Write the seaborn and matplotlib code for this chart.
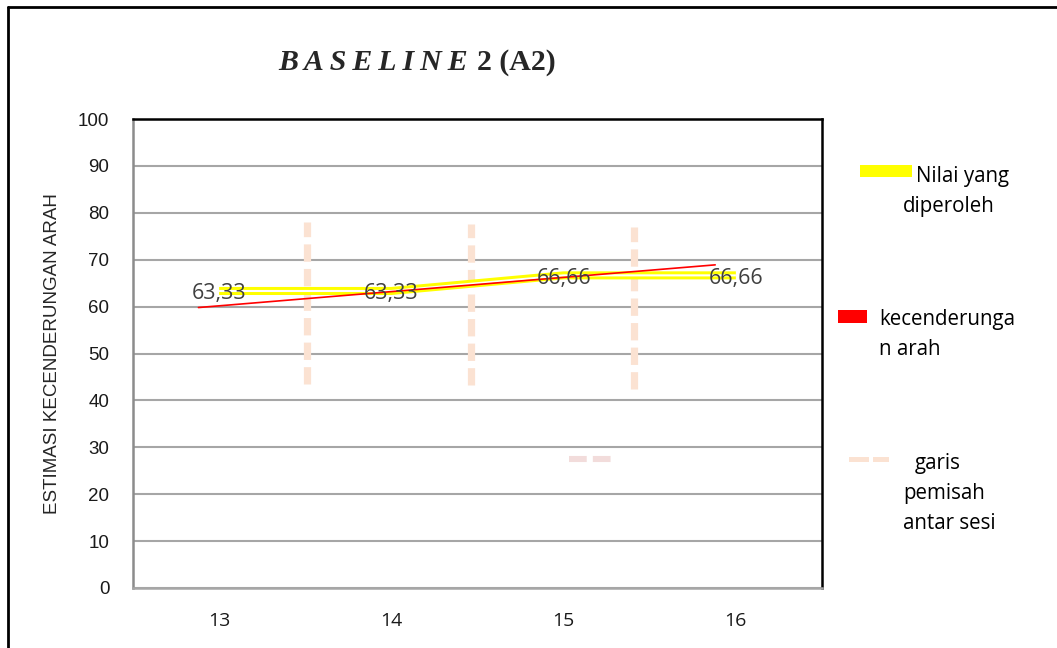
"""Baseline 2 (A2) chart: obtained scores, trend line and session separators."""
import matplotlib
matplotlib.use("Agg")
import matplotlib.pyplot as plt
import pandas as pd
import seaborn as sns
from matplotlib.lines import Line2D
from matplotlib.patches import Rectangle

W, H = 1057, 648

SESSIONS = [13, 14, 15, 16]
SCORES = [63.33, 63.33, 66.66, 66.66]
SCORE_LABELS = ["63,33", "63,33", "66,66", "66,66"]

TREND_X = [12.88, 15.88]
TREND_Y = [59.8, 68.9]

SEPARATOR_X = [13.51, 14.46, 15.41]
SEPARATOR_BOTTOM = [43.5, 43.3, 42.4]
SEPARATOR_TOP = [78.0, 77.6, 77.0]

STRAY_X = [15.03, 15.28]
STRAY_Y = [27.5, 27.5]

Y_TICKS = list(range(0, 101, 10))

YELLOW = "#FFFF00"
RED = "#FF0000"
DASH = "#FBE2D2"
GRID = "#A6A6A6"


def px(x, y):
    # pixel position (from top-left) -> figure fraction
    return x / W, 1 - y / H


def main():
    sns.set_theme(style="white")
    plt.rcParams["font.family"] = ["Open Sans", "DejaVu Sans"]

    fig = plt.figure(figsize=(W / 100, H / 100), dpi=100)
    ax = fig.add_axes([133 / W, 1 - 588 / H, (822 - 133) / W, (588 - 119) / H])

    scores = pd.DataFrame({"sesi": SESSIONS, "nilai": SCORES})
    trend = pd.DataFrame({"sesi": TREND_X, "nilai": TREND_Y})

    # double yellow line: thick yellow with a white core
    sns.lineplot(data=scores, x="sesi", y="nilai", ax=ax, color=YELLOW,
                 lw=5.8, zorder=3, solid_capstyle="butt")
    sns.lineplot(data=scores, x="sesi", y="nilai", ax=ax, color="white",
                 lw=1.5, zorder=4, solid_capstyle="butt")
    sns.lineplot(data=trend, x="sesi", y="nilai", ax=ax, color=RED,
                 lw=1.2, zorder=5)

    for x, y0, y1 in zip(SEPARATOR_X, SEPARATOR_BOTTOM, SEPARATOR_TOP):
        ax.plot([x, x], [y0, y1], color=DASH, lw=5.2, dashes=(2.4, 1.0),
                zorder=2, dash_capstyle="butt")
    ax.plot(STRAY_X, STRAY_Y, color="#F2DCDB", lw=4.4, dashes=(2.9, 1.0),
            zorder=2, dash_capstyle="butt")

    for x, y, lab in zip(SESSIONS, SCORES, SCORE_LABELS):
        ax.text(x, y - 0.6, lab, ha="center", va="center", fontsize=15.5,
                color="#404040", zorder=6)

    ax.set_xlim(12.5, 16.5)
    ax.set_ylim(0, 100)
    ax.set_xticks(SESSIONS)
    ax.set_xticklabels([str(s) for s in SESSIONS], fontsize=14)
    ax.set_yticks(Y_TICKS)
    ax.set_yticklabels([str(v) for v in Y_TICKS], fontsize=13.5,
                       family="Liberation Sans")
    ax.tick_params(axis="x", length=0, pad=17, colors="#1a1a1a")
    ax.tick_params(axis="y", length=0, pad=17, colors="#1a1a1a")
    ax.yaxis.grid(True, color=GRID, lw=1.5)
    ax.xaxis.grid(False)
    ax.set_axisbelow(True)
    ax.set_xlabel("")
    ax.set_ylabel("ESTIMASI KECENDERUNGAN ARAH", family="Liberation Sans",
                  fontsize=13.5, labelpad=12)

    ax.spines["top"].set_color("black")
    ax.spines["right"].set_color("black")
    ax.spines["left"].set_color("#8c8c8c")
    ax.spines["bottom"].set_color(GRID)
    for s in ax.spines.values():
        s.set_linewidth(1.8)

    # title: letter-spaced bold italic word, then bold upright part
    thin = "\u2009"
    t1 = fig.text(*px(278, 62), thin.join("BASELINE"), family="Liberation Serif",
                  weight="bold", style="italic", fontsize=21.5, va="center",
                  ha="left")
    fig.canvas.draw()
    bb = t1.get_window_extent()
    fig.text((bb.x1 + 9) / W, 1 - 62 / H, "2 (A2)", family="Liberation Serif",
             weight="bold", fontsize=21.5, va="center", ha="left")

    # outer frame (left and top edges only are visible)
    fig.add_artist(Line2D([8 / W, 8 / W], [0, 1 - 7 / H], color="black",
                          lw=2, transform=fig.transFigure))
    fig.add_artist(Line2D([8 / W, 1], [1 - 7 / H, 1 - 7 / H], color="black",
                          lw=2, transform=fig.transFigure))

    # hand-built legend
    def swatch(x0, y0, x1, y1, color):
        fig.add_artist(Rectangle(px(x0, y1), (x1 - x0) / W, (y1 - y0) / H,
                                 color=color, transform=fig.transFigure,
                                 lw=0))

    swatch(860, 165, 912, 177, YELLOW)
    swatch(838, 310, 867, 323, RED)
    swatch(849, 457, 869, 462, DASH)
    swatch(873, 457, 889, 462, DASH)

    legend_lines = [
        (916, 182, "Nilai yang"),
        (903, 212, "diperoleh"),
        (879, 325, "kecenderunga"),
        (879, 355, "n arah"),
        (915, 469, "garis"),
        (903, 499, "pemisah"),
        (903, 529, "antar sesi"),
    ]
    for x, y, s in legend_lines:
        fig.text(*px(x, y), s, fontsize=14.8, va="baseline", ha="left",
                 color="black")

    fig.savefig("out.png", dpi=100)


if __name__ == "__main__":
    main()
